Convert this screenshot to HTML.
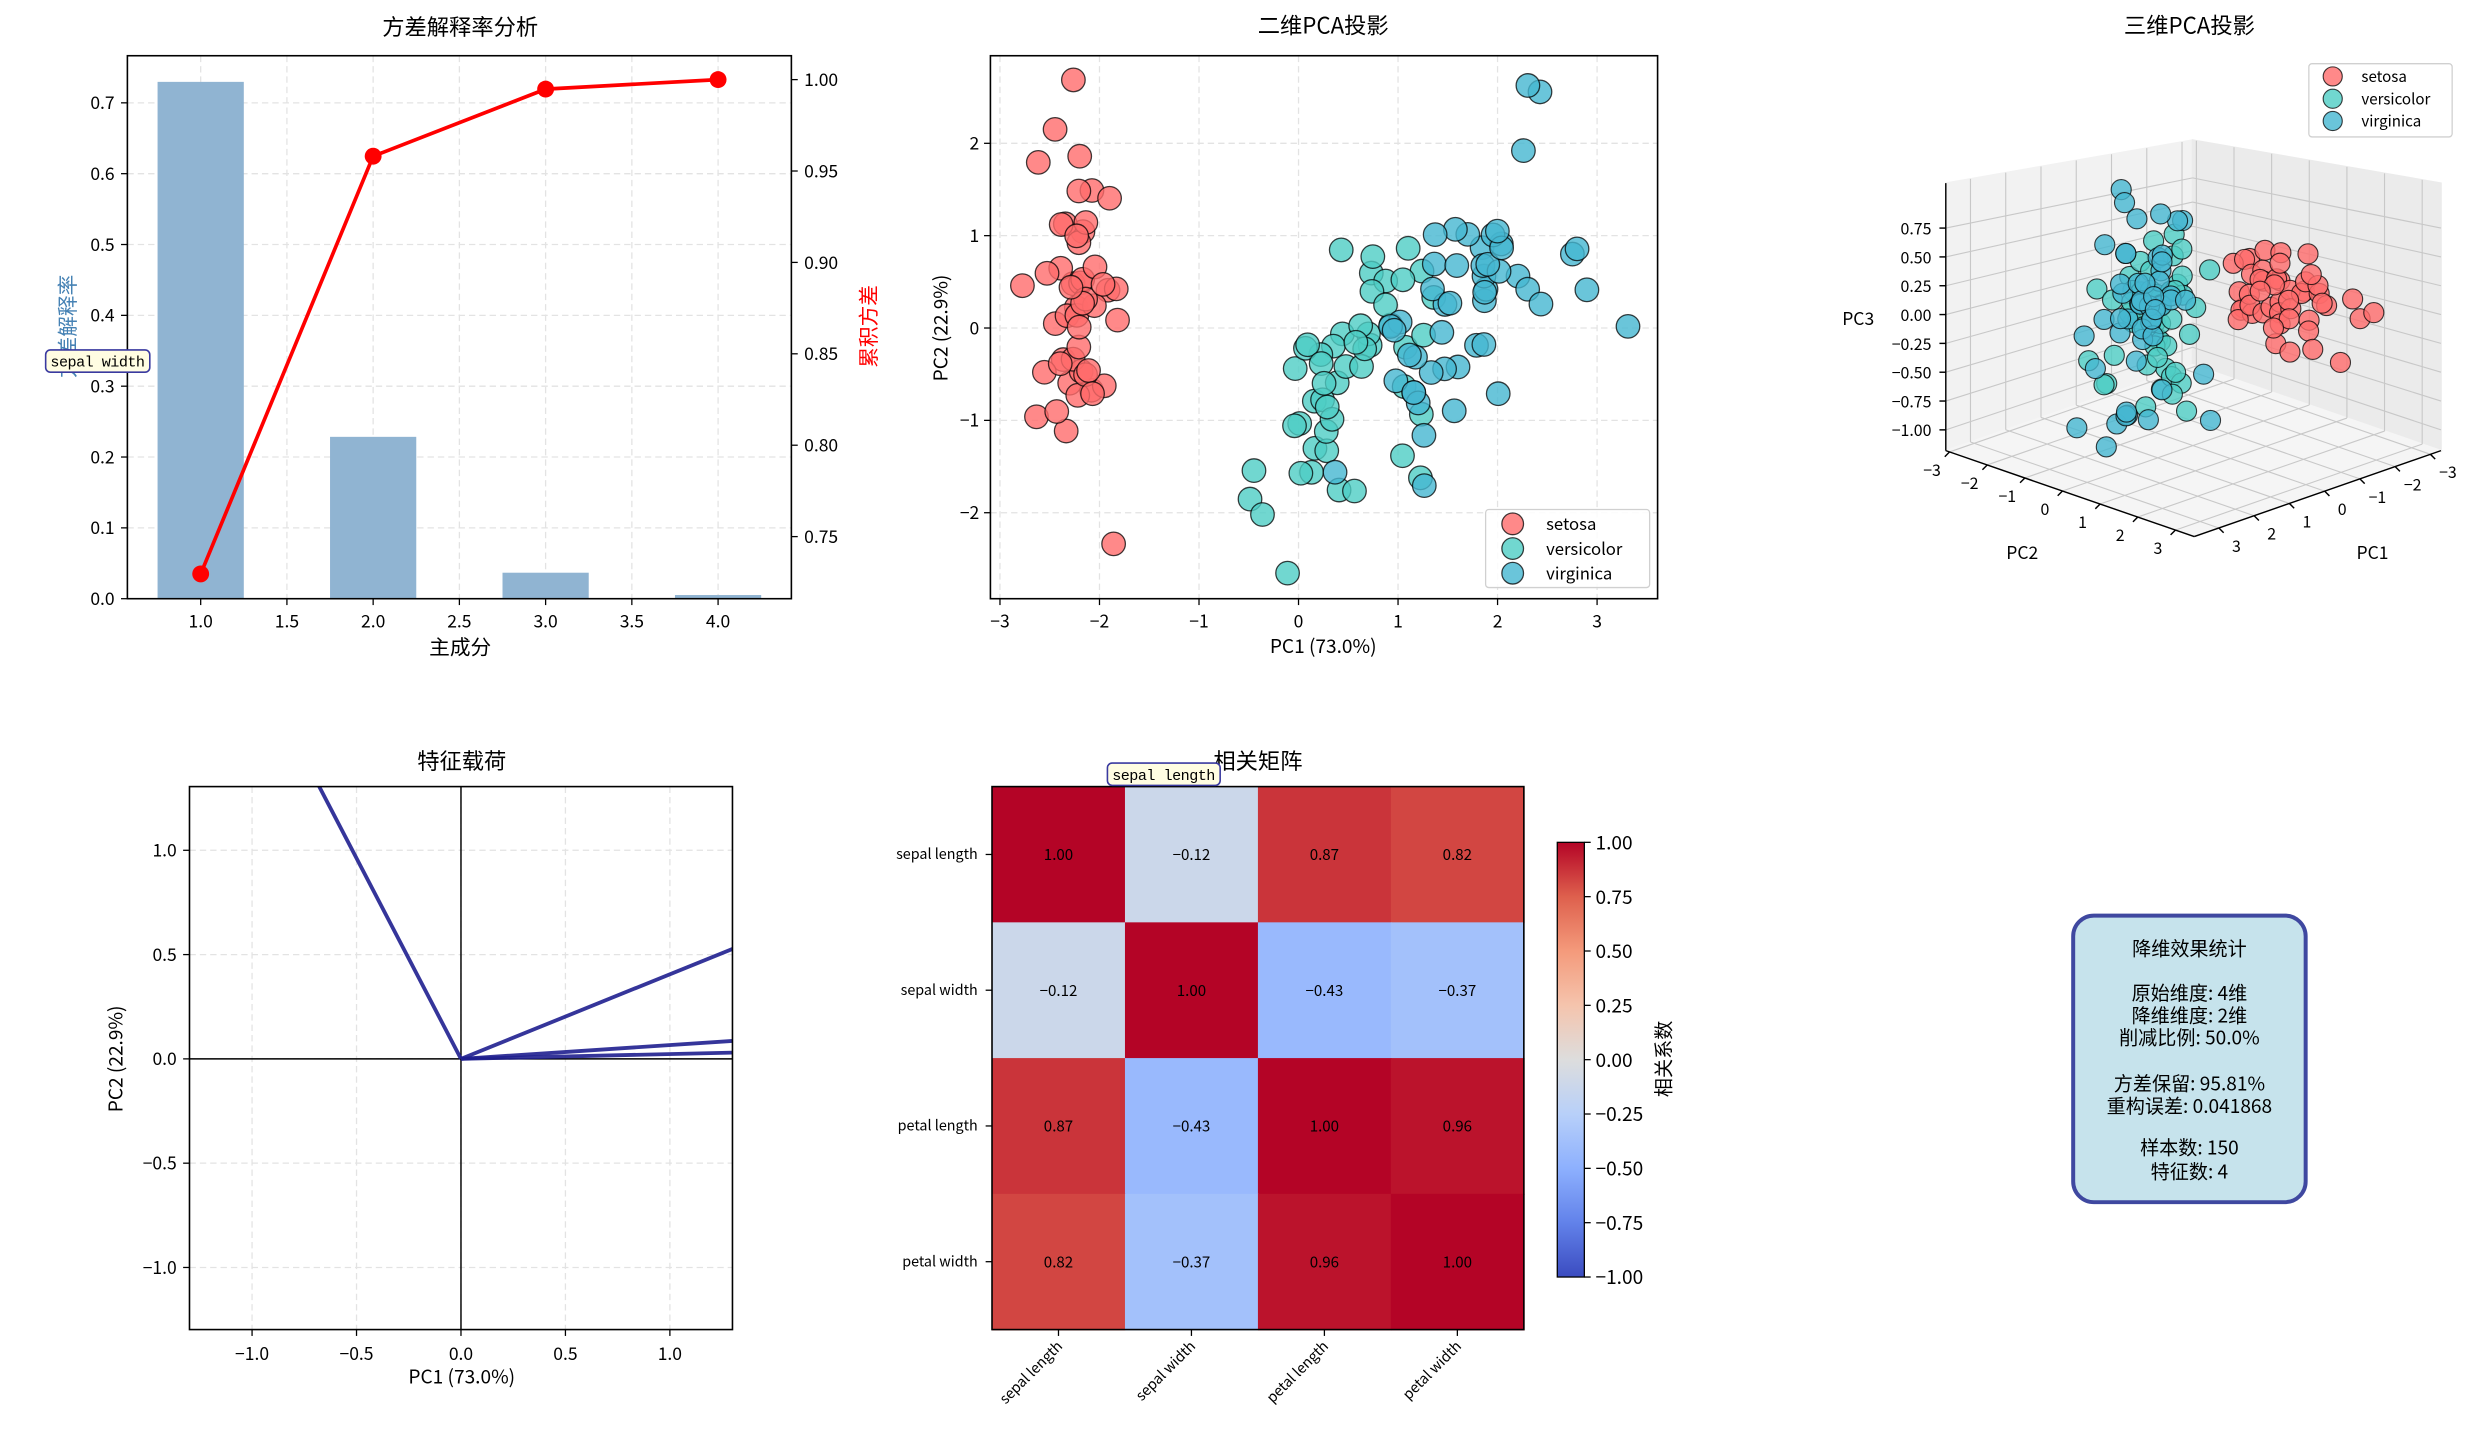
<!DOCTYPE html>
<html><head><meta charset="utf-8">
<style>
html,body{margin:0;padding:0;background:#fff;}
svg{display:block;font-family:"WenQuanYi Zen Hei","Noto Sans CJK SC",sans-serif;}
text{fill:#000;}
</style></head>
<body>
<svg id="fig" xmlns="http://www.w3.org/2000/svg" width="2484" height="1431" viewBox="0 0 1560 898.7">
<defs>
<clipPath id="clip4"><rect x="119" y="494" width="341" height="341"/></clipPath>
<linearGradient id="cbgrad" x1="0" y1="1" x2="0" y2="0">
<stop offset="0" stop-color="#3b4cc0"/><stop offset="0.125" stop-color="#6282ea"/><stop offset="0.25" stop-color="#8db0fe"/><stop offset="0.375" stop-color="#b8d0f9"/><stop offset="0.5" stop-color="#dddddd"/><stop offset="0.625" stop-color="#f5c4ad"/><stop offset="0.75" stop-color="#f49a7b"/><stop offset="0.875" stop-color="#de604d"/><stop offset="1" stop-color="#b40426"/>
</linearGradient>
</defs>
<rect x="0" y="0" width="1560" height="899" fill="#fff"/>

<!-- Panel 1 -->
<g id="p1">
<g id="p1grid"></g>
<g id="p1bars"></g>
<g id="p1line"></g>
<rect x="80" y="35" width="417" height="341" fill="none" stroke="#000" stroke-width="1"/>
<g id="p1ticks"></g>
<text x="289" y="22" font-size="14" text-anchor="middle">方差解释率分析</text>
<text x="289" y="411" font-size="13" text-anchor="middle">主成分</text>
<text transform="translate(47,205) rotate(-90)" font-size="13" text-anchor="middle" style="fill:#4682b4">方差解释率</text>
<text transform="translate(550,205) rotate(-90)" font-size="13" text-anchor="middle" style="fill:#ff0000">累积方差</text>
</g>

<!-- Panel 2 -->
<g id="p2">
<g id="p2grid"></g>
<g id="p2pts"></g>
<rect x="622" y="35" width="419" height="341" fill="none" stroke="#000" stroke-width="1"/>
<g id="p2ticks"></g>
<text x="831" y="21" font-size="14" text-anchor="middle">二维PCA投影</text>
<text x="831" y="410" font-size="12" text-anchor="middle">PC1 (73.0%)</text>
<text transform="translate(595,206) rotate(-90)" font-size="12" text-anchor="middle">PC2 (22.9%)</text>
<g id="p2legend"></g>
</g>

<!-- Panel 3 -->
<g id="p3">
<g id="p3panes"></g>
<g id="p3pts"></g>
<g id="p3axes"></g>
<text x="1375" y="21" font-size="14" text-anchor="middle">三维PCA投影</text>
<g id="p3legend"></g>
</g>

<!-- Panel 4 -->
<g id="p4">
<g id="p4grid"></g>
<line x1="289.5" y1="494" x2="289.5" y2="835" stroke="#000" stroke-width="0.9"/>
<line x1="119" y1="665" x2="460" y2="665" stroke="#000" stroke-width="0.9"/>
<g id="p4lines" clip-path="url(#clip4)"></g>
<rect x="119" y="494" width="341" height="341" fill="none" stroke="#000" stroke-width="1"/>
<g id="p4ticks"></g>
<text x="290" y="483" font-size="14" text-anchor="middle">特征载荷</text>
<text x="290" y="869" font-size="12" text-anchor="middle">PC1 (73.0%)</text>
<text transform="translate(77,665) rotate(-90)" font-size="12" text-anchor="middle">PC2 (22.9%)</text>
<g id="p4labels"></g>
</g>

<!-- Panel 5 -->
<g id="p5">
<g id="p5cells"></g>
<rect x="623" y="494" width="334" height="341" fill="none" stroke="#000" stroke-width="1"/>
<g id="p5ticks"></g>
<text x="790" y="483" font-size="14" text-anchor="middle">相关矩阵</text>
<rect x="978" y="529" width="17" height="273" fill="url(#cbgrad)" stroke="#000" stroke-width="0.8"/>
<g id="cbticks"></g>
<text transform="translate(1049,665) rotate(-90)" font-size="12" text-anchor="middle">相关系数</text>
</g>
<g id="p4labels2"></g>

<!-- Panel 6 -->
<g id="p6">
<rect x="1302" y="575" width="146" height="180" rx="13" ry="13" fill="#c6e3ec" stroke="#3f48a0" stroke-width="2.5"/>
<g font-size="12" text-anchor="middle">
<text x="1375" y="600">降维效果统计</text>
<text x="1375" y="628">原始维度: 4维</text>
<text x="1375" y="642">降维维度: 2维</text>
<text x="1375" y="656">削减比例: 50.0%</text>
<text x="1375" y="685">方差保留: 95.81%</text>
<text x="1375" y="699">重构误差: 0.041868</text>
<text x="1375" y="725">样本数: 150</text>
<text x="1375" y="740">特征数: 4</text>
</g>
</g>
</svg>
<script>
// ---------- data ----------
const components = [1, 2, 3, 4];
const explainedRatio = [0.7296, 0.2285, 0.0367, 0.0052];
const p1XTicks = [1.0, 1.5, 2.0, 2.5, 3.0, 3.5, 4.0];
const p1YTicks = [0.0, 0.1, 0.2, 0.3, 0.4, 0.5, 0.6, 0.7];
const p1RTicks = [0.75, 0.80, 0.85, 0.90, 0.95, 1.00];

const speciesNames = ["setosa", "versicolor", "virginica"];
const speciesColors = ["#ff6b6b", "#4ecdc4", "#45b7d1"];
const irisRows = [
[5.1,3.5,1.4,0.2],[4.9,3.0,1.4,0.2],[4.7,3.2,1.3,0.2],[4.6,3.1,1.5,0.2],[5.0,3.6,1.4,0.2],
[5.4,3.9,1.7,0.4],[4.6,3.4,1.4,0.3],[5.0,3.4,1.5,0.2],[4.4,2.9,1.4,0.2],[4.9,3.1,1.5,0.1],
[5.4,3.7,1.5,0.2],[4.8,3.4,1.6,0.2],[4.8,3.0,1.4,0.1],[4.3,3.0,1.1,0.1],[5.8,4.0,1.2,0.2],
[5.7,4.4,1.5,0.4],[5.4,3.9,1.3,0.4],[5.1,3.5,1.4,0.3],[5.7,3.8,1.7,0.3],[5.1,3.8,1.5,0.3],
[5.4,3.4,1.7,0.2],[5.1,3.7,1.5,0.4],[4.6,3.6,1.0,0.2],[5.1,3.3,1.7,0.5],[4.8,3.4,1.9,0.2],
[5.0,3.0,1.6,0.2],[5.0,3.4,1.6,0.4],[5.2,3.5,1.5,0.2],[5.2,3.4,1.4,0.2],[4.7,3.2,1.6,0.2],
[4.8,3.1,1.6,0.2],[5.4,3.4,1.5,0.4],[5.2,4.1,1.5,0.1],[5.5,4.2,1.4,0.2],[4.9,3.1,1.5,0.2],
[5.0,3.2,1.2,0.2],[5.5,3.5,1.3,0.2],[4.9,3.6,1.4,0.1],[4.4,3.0,1.3,0.2],[5.1,3.4,1.5,0.2],
[5.0,3.5,1.3,0.3],[4.5,2.3,1.3,0.3],[4.4,3.2,1.3,0.2],[5.0,3.5,1.6,0.6],[5.1,3.8,1.9,0.4],
[4.8,3.0,1.4,0.3],[5.1,3.8,1.6,0.2],[4.6,3.2,1.4,0.2],[5.3,3.7,1.5,0.2],[5.0,3.3,1.4,0.2],
[7.0,3.2,4.7,1.4],[6.4,3.2,4.5,1.5],[6.9,3.1,4.9,1.5],[5.5,2.3,4.0,1.3],[6.5,2.8,4.6,1.5],
[5.7,2.8,4.5,1.3],[6.3,3.3,4.7,1.6],[4.9,2.4,3.3,1.0],[6.6,2.9,4.6,1.3],[5.2,2.7,3.9,1.4],
[5.0,2.0,3.5,1.0],[5.9,3.0,4.2,1.5],[6.0,2.2,4.0,1.0],[6.1,2.9,4.7,1.4],[5.6,2.9,3.6,1.3],
[6.7,3.1,4.4,1.4],[5.6,3.0,4.5,1.5],[5.8,2.7,4.1,1.0],[6.2,2.2,4.5,1.5],[5.6,2.5,3.9,1.1],
[5.9,3.2,4.8,1.8],[6.1,2.8,4.0,1.3],[6.3,2.5,4.9,1.5],[6.1,2.8,4.7,1.2],[6.4,2.9,4.3,1.3],
[6.6,3.0,4.4,1.4],[6.8,2.8,4.8,1.4],[6.7,3.0,5.0,1.7],[6.0,2.9,4.5,1.5],[5.7,2.6,3.5,1.0],
[5.5,2.4,3.8,1.1],[5.5,2.4,3.7,1.0],[5.8,2.7,3.9,1.2],[6.0,2.7,5.1,1.6],[5.4,3.0,4.5,1.5],
[6.0,3.4,4.5,1.6],[6.7,3.1,4.7,1.5],[6.3,2.3,4.4,1.3],[5.6,3.0,4.1,1.3],[5.5,2.5,4.0,1.3],
[5.5,2.6,4.4,1.2],[6.1,3.0,4.6,1.4],[5.8,2.6,4.0,1.2],[5.0,2.3,3.3,1.0],[5.6,2.7,4.2,1.3],
[5.7,3.0,4.2,1.2],[5.7,2.9,4.2,1.3],[6.2,2.9,4.3,1.3],[5.1,2.5,3.0,1.1],[5.7,2.8,4.1,1.3],
[6.3,3.3,6.0,2.5],[5.8,2.7,5.1,1.9],[7.1,3.0,5.9,2.1],[6.3,2.9,5.6,1.8],[6.5,3.0,5.8,2.2],
[7.6,3.0,6.6,2.1],[4.9,2.5,4.5,1.7],[7.3,2.9,6.3,1.8],[6.7,2.5,5.8,1.8],[7.2,3.6,6.1,2.5],
[6.5,3.2,5.1,2.0],[6.4,2.7,5.3,1.9],[6.8,3.0,5.5,2.1],[5.7,2.5,5.0,2.0],[5.8,2.8,5.1,2.4],
[6.4,3.2,5.3,2.3],[6.5,3.0,5.5,1.8],[7.7,3.8,6.7,2.2],[7.7,2.6,6.9,2.3],[6.0,2.2,5.0,1.5],
[6.9,3.2,5.7,2.3],[5.6,2.8,4.9,2.0],[7.7,2.8,6.7,2.0],[6.3,2.7,4.9,1.8],[6.7,3.3,5.7,2.1],
[7.2,3.2,6.0,1.8],[6.2,2.8,4.8,1.8],[6.1,3.0,4.9,1.8],[6.4,2.8,5.6,2.1],[7.2,3.0,5.8,1.6],
[7.4,2.8,6.1,1.9],[7.9,3.8,6.4,2.0],[6.4,2.8,5.6,2.2],[6.3,2.8,5.1,1.5],[6.1,2.6,5.6,1.4],
[7.7,3.0,6.1,2.3],[6.3,3.4,5.6,2.4],[6.4,3.1,5.5,1.8],[6.0,3.0,4.8,1.8],[6.9,3.1,5.4,2.1],
[6.7,3.1,5.6,2.4],[6.9,3.1,5.1,2.3],[5.8,2.7,5.1,1.9],[6.8,3.2,5.9,2.3],[6.7,3.3,5.7,2.5],
[6.7,3.0,5.2,2.3],[6.3,2.5,5.0,1.9],[6.5,3.0,5.2,2.0],[6.2,3.4,5.4,2.3],[5.9,3.0,5.1,1.8]
];
const p2XTicks = [-3, -2, -1, 0, 1, 2, 3];
const p2YTicks = [-2, -1, 0, 1, 2];

const p3XTicks = [-3, -2, -1, 0, 1, 2, 3];
const p3YTicks = [-3, -2, -1, 0, 1, 2, 3];
const p3ZTicks = [-1.00, -0.75, -0.50, -0.25, 0.00, 0.25, 0.50, 0.75];

const featureNames = ["sepal length", "sepal width", "petal length", "petal width"];
const loadingPC1 = [0.89, -0.46, 0.995, 0.968];
const loadingPC2 = [0.361, 0.885, 0.023, 0.064];
const p4Ticks = [-1.0, -0.5, 0.0, 0.5, 1.0];

const corrRow0 = [1.00, -0.12, 0.87, 0.82];
const corrRow1 = [-0.12, 1.00, -0.43, -0.37];
const corrRow2 = [0.87, -0.43, 1.00, 0.96];
const corrRow3 = [0.82, -0.37, 0.96, 1.00];
const cbTicks = [1.00, 0.75, 0.50, 0.25, 0.00, -0.25, -0.50, -0.75, -1.00];

// ---------- helpers ----------
const NS = "http://www.w3.org/2000/svg";
function mk(tag, attrs, parent) {
  const e = document.createElementNS(NS, tag);
  for (const k in attrs) e.setAttribute(k, attrs[k]);
  parent.appendChild(e);
  return e;
}
function $(id) { return document.getElementById(id); }
function fmt(v, d) { const s = v.toFixed(d); return s.replace("-", "\u2212"); }
const GRID = {stroke: "#e3e3e3", "stroke-width": 0.8, "stroke-dasharray": "4,2.5"};

// ---------- panel 1 ----------
const p1x = v => 80 + (v - 0.575) / (4.425 - 0.575) * 417;
const p1y = v => 376 - v / 0.7665 * 341;
const p1yr = v => 337 - (v - 0.75) / 0.25 * 287;
p1XTicks.forEach(t => {
  const g = mk("line", Object.assign({x1: p1x(t), x2: p1x(t), y1: 35, y2: 376}, GRID), $("p1grid"));
  
  
  const tk = mk("line", {x1: p1x(t), x2: p1x(t), y1: 376, y2: 380, stroke: "#000", "stroke-width": 0.8}, $("p1ticks"));
  
  
  const tx = mk("text", {x: p1x(t), y: 394, "font-size": 11, "text-anchor": "middle"}, $("p1ticks"));
  tx.textContent = t.toFixed(1);
  
  
});
p1YTicks.forEach(t => {
  const g = mk("line", Object.assign({x1: 80, x2: 497, y1: p1y(t), y2: p1y(t)}, GRID), $("p1grid"));
  
  
  const tk = mk("line", {x1: 76, x2: 80, y1: p1y(t), y2: p1y(t), stroke: "#000", "stroke-width": 0.8}, $("p1ticks"));
  
  
  const tx = mk("text", {x: 72, y: p1y(t) + 4, "font-size": 11, "text-anchor": "end"}, $("p1ticks"));
  tx.textContent = t.toFixed(1);
  
  
});
p1RTicks.forEach(t => {
  const tk = mk("line", {x1: 497, x2: 501, y1: p1yr(t), y2: p1yr(t), stroke: "#000", "stroke-width": 0.8}, $("p1ticks"));
  
  
  const tx = mk("text", {x: 505, y: p1yr(t) + 4, "font-size": 11}, $("p1ticks"));
  tx.textContent = t.toFixed(2);
  
  
});
components.forEach((c, i) => {
  const b = mk("rect", {x: p1x(c - 0.25), y: p1y(explainedRatio[i]), width: p1x(c + 0.25) - p1x(c - 0.25), height: p1y(0) - p1y(explainedRatio[i]), fill: "#90b4d2"}, $("p1bars"));
  
  
});
let acc = 0;
const cumulative = explainedRatio.map(v => (acc += v));
const pl = mk("polyline", {points: components.map((c, i) => p1x(c) + "," + p1yr(cumulative[i])).join(" "), fill: "none", stroke: "#ff0000", "stroke-width": 2.3}, $("p1line"));


components.forEach((c, i) => {
  const m = mk("circle", {cx: p1x(c), cy: p1yr(cumulative[i]), r: 5.3, fill: "#ff0000"}, $("p1line"));
  
  
});

// ---------- PCA from raw measurements ----------
const n = irisRows.length;
const means = [0,1,2,3].map(j => irisRows.reduce((s, r) => s + r[j], 0) / n);
const sds = [0,1,2,3].map(j => Math.sqrt(irisRows.reduce((s, r) => s + (r[j] - means[j]) ** 2, 0) / n));
const Z = irisRows.map(r => r.map((v, j) => (v - means[j]) / sds[j]));
const C = [0,1,2,3].map(a => [0,1,2,3].map(b => Z.reduce((s, r) => s + r[a] * r[b], 0) / n));
function jacobi(Ain) {
  const A = Ain.map(r => r.slice());
  const V = [[1,0,0,0],[0,1,0,0],[0,0,1,0],[0,0,0,1]];
  for (let sweep = 0; sweep < 60; sweep++) {
    for (let p = 0; p < 4; p++) for (let q = p + 1; q < 4; q++) {
      if (Math.abs(A[p][q]) < 1e-14) continue;
      const th = (A[q][q] - A[p][p]) / (2 * A[p][q]);
      const t = (th >= 0 ? 1 : -1) / (Math.abs(th) + Math.sqrt(th * th + 1));
      const c = 1 / Math.sqrt(t * t + 1), s = t * c;
      for (let k = 0; k < 4; k++) { const akp = A[k][p], akq = A[k][q]; A[k][p] = c * akp - s * akq; A[k][q] = s * akp + c * akq; }
      for (let k = 0; k < 4; k++) { const apk = A[p][k], aqk = A[q][k]; A[p][k] = c * apk - s * aqk; A[q][k] = s * apk + c * aqk; }
      for (let k = 0; k < 4; k++) { const vkp = V[k][p], vkq = V[k][q]; V[k][p] = c * vkp - s * vkq; V[k][q] = s * vkp + c * vkq; }
    }
  }
  const vals = [0,1,2,3].map(i => A[i][i]);
  const order = [0,1,2,3].sort((a, b) => vals[b] - vals[a]);
  return order.map(i => [0,1,2,3].map(k => V[k][i]));
}
const evecs = jacobi(C);
if (evecs[0][2] < 0) evecs[0] = evecs[0].map(v => -v);
if (evecs[1][1] < 0) evecs[1] = evecs[1].map(v => -v);
if (evecs[2][0] > 0) evecs[2] = evecs[2].map(v => -v);
const pc1 = Z.map(r => r.reduce((s, v, j) => s + v * evecs[0][j], 0));
const pc2 = Z.map(r => r.reduce((s, v, j) => s + v * evecs[1][j], 0));
const pc3 = Z.map(r => r.reduce((s, v, j) => s + v * evecs[2][j], 0));
const cls = irisRows.map((r, i) => Math.floor(i / 50));

// ---------- panel 2 ----------
const p2x = v => 815.5 + v * 62.5;
const p2y = v => 206 - v * 58;
p2XTicks.forEach(t => {
  const g = mk("line", Object.assign({x1: p2x(t), x2: p2x(t), y1: 35, y2: 376}, GRID), $("p2grid"));
  
  
  const tk = mk("line", {x1: p2x(t), x2: p2x(t), y1: 376, y2: 380, stroke: "#000", "stroke-width": 0.8}, $("p2ticks"));
  
  
  const tx = mk("text", {x: p2x(t), y: 394, "font-size": 11, "text-anchor": "middle"}, $("p2ticks"));
  tx.textContent = fmt(t, 0);
  
  
});
p2YTicks.forEach(t => {
  const g = mk("line", Object.assign({x1: 622, x2: 1041, y1: p2y(t), y2: p2y(t)}, GRID), $("p2grid"));
  
  
  const tk = mk("line", {x1: 618, x2: 622, y1: p2y(t), y2: p2y(t), stroke: "#000", "stroke-width": 0.8}, $("p2ticks"));
  
  
  const tx = mk("text", {x: 615, y: p2y(t) + 4, "font-size": 11, "text-anchor": "end"}, $("p2ticks"));
  tx.textContent = fmt(t, 0);
  
  
});
for (let i = 0; i < n; i++) {
  const c = mk("circle", {cx: p2x(pc1[i]), cy: p2y(pc2[i]), r: 7.4, fill: speciesColors[cls[i]], "fill-opacity": 0.8, stroke: "#000", "stroke-opacity": 0.75, "stroke-width": 0.8}, $("p2pts"));
  
  
}
const lg2 = mk("rect", {x: 933, y: 320, width: 103, height: 49, rx: 2, fill: "#fff", "fill-opacity": 0.85, stroke: "#d0d0d0", "stroke-width": 0.8}, $("p2legend"));


speciesNames.forEach((s, k) => {
  const yy = 329 + k * 15.5;
  const c = mk("circle", {cx: 950, cy: yy, r: 6.8, fill: speciesColors[k], "fill-opacity": 0.8, stroke: "#000", "stroke-opacity": 0.75, "stroke-width": 0.8}, $("p2legend"));
  
  
  const t = mk("text", {x: 971, y: yy + 4, "font-size": 10.5}, $("p2legend"));
  t.textContent = s;
  
  
});

// ---------- panel 3 (3D) ----------
const X3 = [-3.3, 3.7], Y3 = [-3.1, 3.5], Z3 = [-1.18, 1.14];
function proj(a, b, c) {
  const u = (a - X3[0]) / (X3[1] - X3[0]);
  const v = (b - Y3[0]) / (Y3[1] - Y3[0]);
  const w = (c - Z3[0]) / (Z3[1] - Z3[0]);
  const H = 141 + 27 * (u + v);
  return [1377 - 155 * u + 156 * v, 229 + 54 * u + 54 * v - w * H, u + v];
}
function poly(pts) { return pts.map(p => p[0].toFixed(1) + "," + p[1].toFixed(1)).join(" "); }
const P = $("p3panes");
const paneL = mk("polygon", {points: poly([proj(X3[0], Y3[0], Z3[0]), proj(X3[1], Y3[0], Z3[0]), proj(X3[1], Y3[0], Z3[1]), proj(X3[0], Y3[0], Z3[1])]), fill: "#f2f2f2", stroke: "#f2f2f2"}, P);


const paneR = mk("polygon", {points: poly([proj(X3[0], Y3[0], Z3[0]), proj(X3[0], Y3[1], Z3[0]), proj(X3[0], Y3[1], Z3[1]), proj(X3[0], Y3[0], Z3[1])]), fill: "#ebebeb", stroke: "#ebebeb"}, P);


const paneF = mk("polygon", {points: poly([proj(X3[0], Y3[0], Z3[0]), proj(X3[1], Y3[0], Z3[0]), proj(X3[1], Y3[1], Z3[0]), proj(X3[0], Y3[1], Z3[0])]), fill: "#f5f5f5", stroke: "#f5f5f5"}, P);


function gl(a, b) {
  const l = mk("line", {x1: a[0], y1: a[1], x2: b[0], y2: b[1], stroke: "#c8c8c8", "stroke-width": 0.7}, P);
  
  
}
p3XTicks.forEach(t => { gl(proj(t, Y3[0], Z3[0]), proj(t, Y3[1], Z3[0])); gl(proj(t, Y3[0], Z3[0]), proj(t, Y3[0], Z3[1])); });
p3YTicks.forEach(t => { gl(proj(X3[0], t, Z3[0]), proj(X3[1], t, Z3[0])); gl(proj(X3[0], t, Z3[0]), proj(X3[0], t, Z3[1])); });
p3ZTicks.forEach(t => { gl(proj(X3[0], Y3[0], t), proj(X3[1], Y3[0], t)); gl(proj(X3[0], Y3[0], t), proj(X3[0], Y3[1], t)); });
const pts3 = [];
for (let i = 0; i < n; i++) pts3.push([proj(pc1[i], pc2[i], pc3[i]), cls[i]]);
pts3.sort((a, b) => a[0][2] - b[0][2]);
pts3.forEach(p => {
  const c = mk("circle", {cx: p[0][0], cy: p[0][1], r: 6.3, fill: speciesColors[p[1]], "fill-opacity": 0.8, stroke: "#000", "stroke-opacity": 0.75, "stroke-width": 0.7}, $("p3pts"));
  
  
});
const A3 = $("p3axes");
function axl(a, b, name) {
  const l = mk("line", {x1: a[0], y1: a[1], x2: b[0], y2: b[1], stroke: "#000", "stroke-width": 0.9}, A3);
  
  
}
axl(proj(X3[1], Y3[0], Z3[0]), proj(X3[1], Y3[0], Z3[1]), 'pca3d-z-axis');
axl(proj(X3[1], Y3[0], Z3[0]), proj(X3[1], Y3[1], Z3[0]), 'pca3d-y-axis');
axl(proj(X3[1], Y3[1], Z3[0]), proj(X3[0], Y3[1], Z3[0]), 'pca3d-x-axis');
p3ZTicks.forEach(t => {
  const p = proj(X3[1], Y3[0], t);
  axl([p[0] - 4, p[1]], p, 'pca3d-z-tick');
  const tx = mk("text", {x: p[0] - 9, y: p[1] + 4, "font-size": 10, "text-anchor": "end"}, A3);
  tx.textContent = fmt(t, 2);
  
  
});
p3YTicks.forEach(t => {
  const p = proj(X3[1], t, Z3[0]);
  axl(p, [p[0] - 3, p[1] + 3], 'pca3d-y-tick');
  const tx = mk("text", {x: p[0] - 11, y: p[1] + 15, "font-size": 10, "text-anchor": "middle"}, A3);
  tx.textContent = fmt(t, 0);
  
  
});
p3XTicks.forEach(t => {
  const p = proj(t, Y3[1], Z3[0]);
  axl(p, [p[0] + 3, p[1] + 3], 'pca3d-x-tick');
  const tx = mk("text", {x: p[0] + 11, y: p[1] + 15, "font-size": 10, "text-anchor": "middle"}, A3);
  tx.textContent = fmt(t, 0);
  
  
});
const l3a = mk("text", {x: 1270, y: 351, "font-size": 11, "text-anchor": "middle"}, A3);
l3a.textContent = "PC2";


const l3b = mk("text", {x: 1490, y: 351, "font-size": 11, "text-anchor": "middle"}, A3);
l3b.textContent = "PC1";


const l3c = mk("text", {x: 1167, y: 204, "font-size": 11, "text-anchor": "middle"}, A3);
l3c.textContent = "PC3";


const lg3 = mk("rect", {x: 1450, y: 40, width: 90, height: 46, rx: 2, fill: "#fff", "fill-opacity": 0.85, stroke: "#d0d0d0", "stroke-width": 0.8}, $("p3legend"));


speciesNames.forEach((s, k) => {
  const yy = 48 + k * 14;
  const c = mk("circle", {cx: 1465, cy: yy, r: 6, fill: speciesColors[k], "fill-opacity": 0.8, stroke: "#000", "stroke-opacity": 0.75, "stroke-width": 0.7}, $("p3legend"));
  
  
  const t = mk("text", {x: 1483, y: yy + 3.5, "font-size": 9.5}, $("p3legend"));
  t.textContent = s;
  
  
});

// ---------- panel 4 ----------
const p4x = v => 289.5 + v * 131.2;
const p4y = v => 665 - v * 131;
p4Ticks.forEach(t => {
  const g = mk("line", Object.assign({x1: p4x(t), x2: p4x(t), y1: 494, y2: 835}, GRID), $("p4grid"));
  
  
  const g2 = mk("line", Object.assign({x1: 119, x2: 460, y1: p4y(t), y2: p4y(t)}, GRID), $("p4grid"));
  
  
  const tk = mk("line", {x1: p4x(t), x2: p4x(t), y1: 835, y2: 839, stroke: "#000", "stroke-width": 0.8}, $("p4ticks"));
  
  
  const tx = mk("text", {x: p4x(t), y: 854, "font-size": 11, "text-anchor": "middle"}, $("p4ticks"));
  tx.textContent = fmt(t, 1);
  
  
  const tk2 = mk("line", {x1: 115, x2: 119, y1: p4y(t), y2: p4y(t), stroke: "#000", "stroke-width": 0.8}, $("p4ticks"));
  
  
  const ty = mk("text", {x: 111, y: p4y(t) + 4, "font-size": 11, "text-anchor": "end"}, $("p4ticks"));
  ty.textContent = fmt(t, 1);
  
  
});
const arrowScale = 3.5, labelScale = 3.78;
featureNames.forEach((f, i) => {
  const l = mk("line", {x1: p4x(0), y1: p4y(0), x2: p4x(loadingPC1[i] * arrowScale), y2: p4y(loadingPC2[i] * arrowScale), stroke: "#1f1f8f", "stroke-opacity": 0.9, "stroke-width": 2.4}, $("p4lines"));
  
  
});
function loadLabel(i, parent) {
  const cx = p4x(loadingPC1[i] * labelScale), cy = p4y(loadingPC2[i] * labelScale);
  const w = featureNames[i].length * 5.4 + 6;
  const r = mk("rect", {x: cx - w / 2, y: cy - 7, width: w, height: 14, rx: 3, fill: "#fffde2", stroke: "#3a3aa0", "stroke-width": 1}, parent);
  
  
  const t = mk("text", {x: cx, y: cy + 3.5, "font-size": 9.5, "text-anchor": "middle", "font-family": "Liberation Mono, monospace", textLength: w - 6}, parent);
  t.textContent = featureNames[i];
  
  
}
loadLabel(2, $("p4labels")); loadLabel(3, $("p4labels"));

// ---------- panel 5 ----------
const corrMatrix = [corrRow0, corrRow1, corrRow2, corrRow3];
const cwStops = [[59,76,192],[98,130,234],[141,176,254],[184,208,249],[221,221,221],[245,196,173],[244,154,123],[222,96,77],[180,4,38]];
function coolwarm(v) {
  const t = Math.max(0, Math.min(1, (v + 1) / 2)) * 8;
  const i = Math.min(7, Math.floor(t)), f = t - i;
  const a = cwStops[i], b = cwStops[i + 1];
  return "rgb(" + [0,1,2].map(k => Math.round(a[k] + (b[k] - a[k]) * f)).join(",") + ")";
}
const cw = 334 / 4, ch = 341 / 4;
corrMatrix.forEach((row, r) => row.forEach((v, c) => {
  const rc = mk("rect", {x: 623 + c * cw, y: 494 + r * ch, width: cw + 0.5, height: ch + 0.5, fill: coolwarm(v)}, $("p5cells"));
  
  
  const t = mk("text", {x: 623 + (c + 0.5) * cw, y: 494 + (r + 0.5) * ch + 3.5, "font-size": 9.5, "text-anchor": "middle"}, $("p5cells"));
  t.textContent = fmt(v, 2);
  
  
}));
featureNames.forEach((f, i) => {
  const ty = mk("text", {x: 614, y: 494 + (i + 0.5) * ch + 3, "font-size": 9, "text-anchor": "end"}, $("p5ticks"));
  ty.textContent = f;
  
  
  const tk = mk("line", {x1: 619, x2: 623, y1: 494 + (i + 0.5) * ch, y2: 494 + (i + 0.5) * ch, stroke: "#000", "stroke-width": 0.8}, $("p5ticks"));
  
  
  const xx = 623 + (i + 0.5) * cw;
  const tk2 = mk("line", {x1: xx, x2: xx, y1: 835, y2: 839, stroke: "#000", "stroke-width": 0.8}, $("p5ticks"));
  
  
  const tx = mk("text", {transform: "translate(" + (xx + 3) + ",846) rotate(-45)", "font-size": 9, "text-anchor": "end"}, $("p5ticks"));
  tx.textContent = f;
  
  
});
const cby = v => 802 - (v + 1) / 2 * 273;
cbTicks.forEach(t => {
  const tk = mk("line", {x1: 995, x2: 999, y1: cby(t), y2: cby(t), stroke: "#000", "stroke-width": 0.8}, $("cbticks"));
  
  
  const tx = mk("text", {x: 1002, y: cby(t) + 4.5, "font-size": 12}, $("cbticks"));
  tx.textContent = fmt(t, 2);
  
  
});
// labels drawn over other panels (outside loadings axes)
loadLabel(0, $("p4labels2")); loadLabel(1, $("p4labels2"));
</script>
</body></html>
